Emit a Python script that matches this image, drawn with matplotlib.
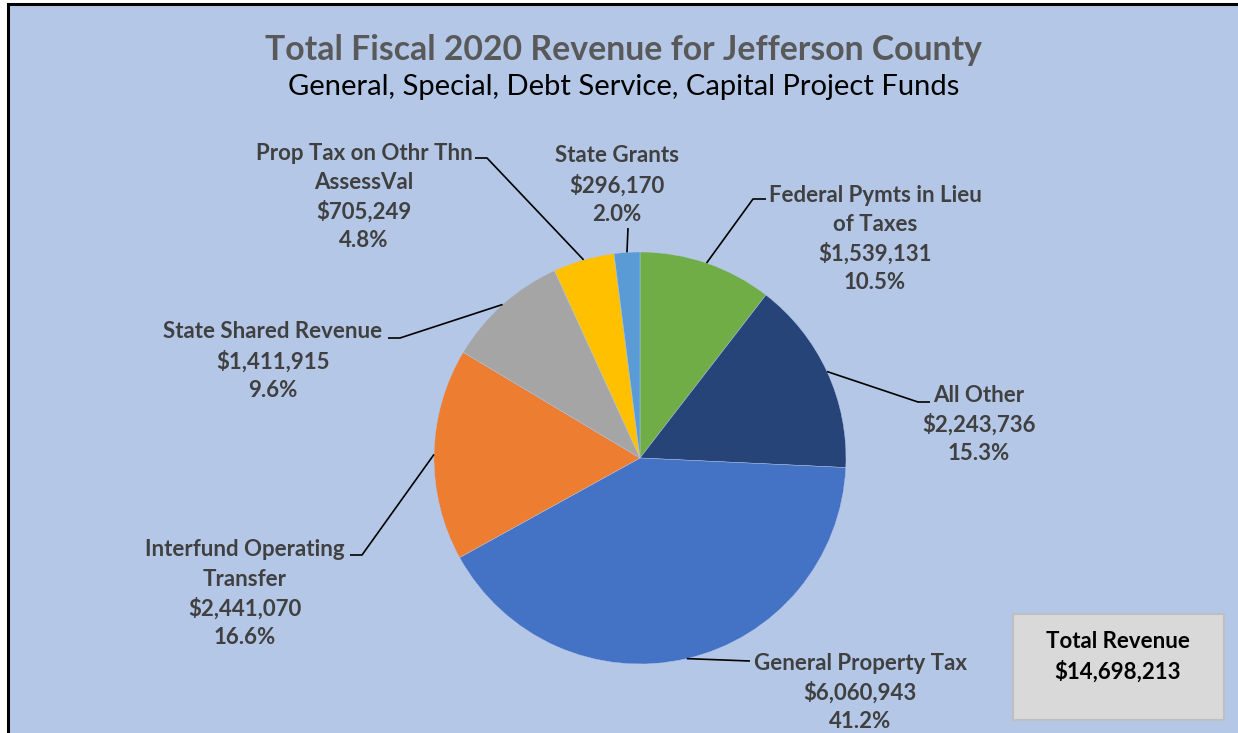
import numpy as np
import matplotlib
matplotlib.use("Agg")
import matplotlib.pyplot as plt
from matplotlib.patches import Rectangle

plt.rcParams['font.family'] = ['Lato', 'DejaVu Sans']

W, H = 1238, 733

# data, clockwise from 12 o'clock
names = ["Federal Pymts in Lieu\nof Taxes", "All Other", "General Property Tax",
         "Interfund Operating\nTransfer", "State Shared Revenue",
         "Prop Tax on Othr Thn\nAssessVal", "State Grants"]
values = [1539131, 2243736, 6060943, 2441070, 1411915, 705249, 296170]
total_revenue = 14698213
colors = ["#70AD47", "#264478", "#4472C4", "#ED7D31", "#A5A5A5", "#FFC000", "#5B9BD5"]

# label layout in pixels (center x, first line y), leader elbow and end
label_pos = [(875, 195), (979, 395), (860, 663), (245, 550), (273, 332), (364, 153), (617, 156)]
leader_pts = [[(753, 199), (766, 199)],
              [(918, 402), (930, 402)],
              [(750, 661)],
              [(362, 555), (350, 555)],
              [(400, 338), (388, 338)],
              [(487, 158), (475, 158)],
              [(628, 228)]]

cx, cy, R = 640, 458, 206
pitch = 29.3
txt_col = "#404040"


def py(y):
    return H - y


fig = plt.figure(figsize=(W / 100, H / 100), dpi=100)
fig.patch.set_facecolor("white")
ax = fig.add_axes([0, 0, 1, 1])

ax.add_patch(Rectangle((8, -20), W + 40, py(4) + 20, facecolor="#B4C7E7",
                       edgecolor="black", linewidth=2.2, zorder=0))

wedges, _ = ax.pie(values, colors=colors, startangle=90, counterclock=False,
                   radius=R, center=(cx, py(cy)),
                   wedgeprops=dict(linewidth=0.3, edgecolor="#B4C7E7"))

total = float(sum(values))
start = 90.0
for i, v in enumerate(values):
    span = 360.0 * v / total
    mid = np.deg2rad(start - span / 2)
    start -= span
    ax_pt = (cx + R * np.cos(mid), py(cy) + R * np.sin(mid))
    pts = [ax_pt] + [(x, py(y)) for x, y in leader_pts[i]]
    ax.plot([p[0] for p in pts], [p[1] for p in pts], color="black", lw=1.2,
            solid_capstyle="butt", zorder=3)

    lines = names[i].split("\n") + ["${:,}".format(v), "{:.1f}%".format(100 * v / total)]
    lx, ly = label_pos[i]
    for k, s in enumerate(lines):
        ax.text(lx, py(ly + k * pitch), s, ha="center", va="center",
                fontsize=16, fontweight="bold", color=txt_col, zorder=4)

ax.text(623, py(50), "Total Fiscal 2020 Revenue for Jefferson County", ha="center",
        va="center", fontsize=24.3, fontweight="bold", color="#595959")
ax.text(624, py(87), "General, Special, Debt Service, Capital Project Funds", ha="center",
        va="center", fontsize=21, color="black")

ax.add_patch(Rectangle((1013, py(720)), 211, 106, facecolor="#D9D9D9",
                       edgecolor="#BFBFBF", linewidth=1.5, zorder=2))
ax.text(1118, py(642), "Total Revenue", ha="center", va="center", fontsize=16,
        fontweight="bold", color="black", zorder=3)
ax.text(1118, py(672), "${:,}".format(total_revenue), ha="center", va="center",
        fontsize=16, fontweight="bold", color="black", zorder=3)

ax.set_xlim(0, W)
ax.set_ylim(0, H)
ax.set_aspect("auto")
ax.axis("off")

fig.savefig("out.png", dpi=100, facecolor=fig.get_facecolor())
